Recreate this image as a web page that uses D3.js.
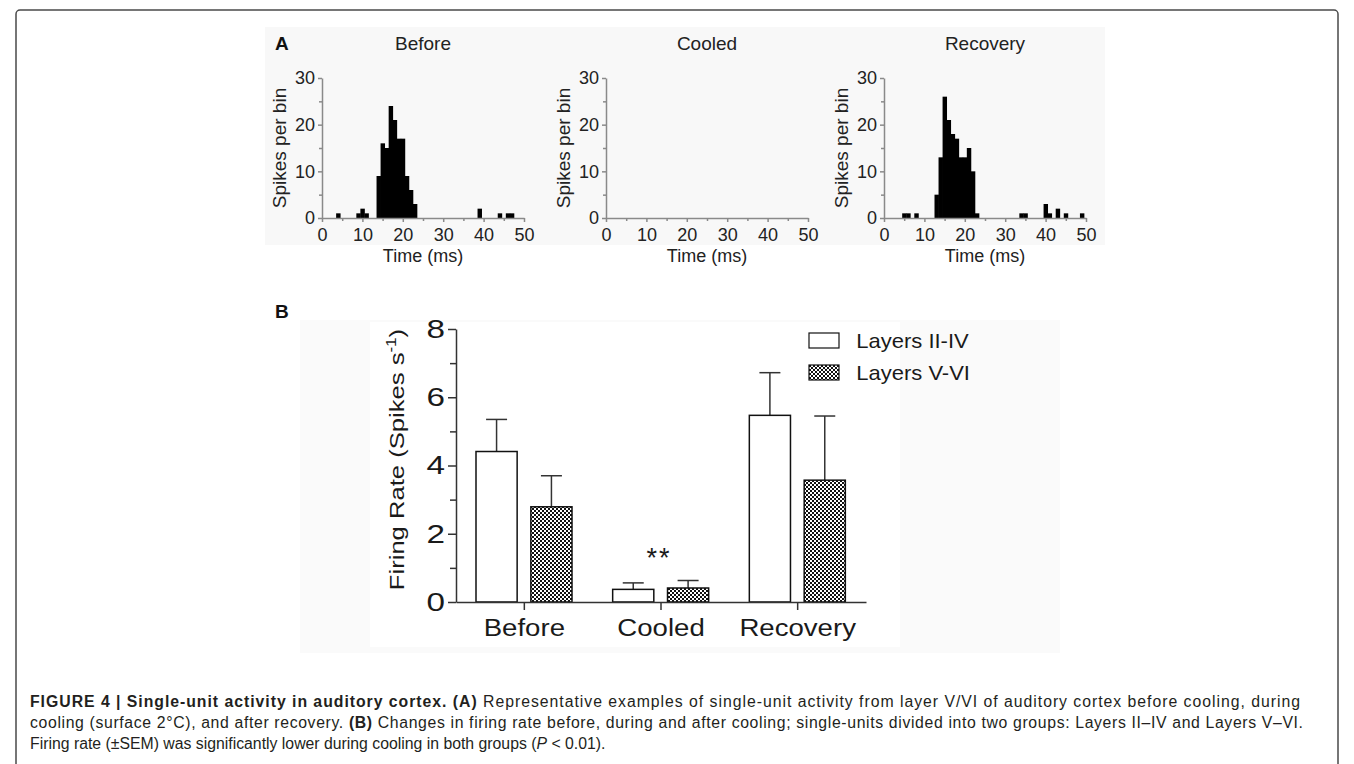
<!DOCTYPE html>
<html lang="en">
<head>
<meta charset="UTF-8">
<title>Figure 4 - Single-unit activity in auditory cortex</title>
<style>
  body { margin: 0; background: #fff; font-family: "Liberation Sans", Arial, sans-serif; }
  svg { display: block; }
  .cap { font-size: 15.8px; fill: #231f20; }
</style>
</head>
<body>

<svg width="1354" height="764"></svg>

<script src="https://d3js.org/d3.v7.min.js"></script>
<script>
  // Panel A: spikes per 1 ms bin (bin centre in ms, count)
  const beforeBins     = [4, 9, 10, 11, 14, 15, 16, 17, 18, 19, 20, 21, 22, 23, 39, 44, 46, 47];
  const beforeCounts   = [1, 1, 2, 1, 9, 16, 15, 24, 21, 17, 17, 9, 6, 3, 2, 1, 1, 1];
  const cooledBins     = [];
  const cooledCounts   = [];
  const recoveryBins   = [5, 6, 8, 13, 14, 15, 16, 17, 18, 19, 20, 21, 22, 23, 34, 35, 40, 41, 43, 45, 49];
  const recoveryCounts = [1, 1, 1, 5, 13, 26, 21, 18, 17, 13, 13, 15, 10, 1, 1, 1, 3, 1, 2, 1, 1];
  const histTitles = ["Before", "Cooled", "Recovery"];
  const timeTicks  = [0, 10, 20, 30, 40, 50];
  const countTicks = [0, 10, 20, 30];

  // Panel B: mean firing rate and SEM
  const conditions  = ["Before", "Cooled", "Recovery"];
  const layerGroups = ["Layers II-IV", "Layers V-VI"];
  const rateUpper = [4.41, 0.37, 5.47];
  const semUpper  = [0.94, 0.19, 1.25];
  const rateDeep  = [2.79, 0.41, 3.57];
  const semDeep   = [0.91, 0.22, 1.88];
  const rateTicks = [0, 2, 4, 6, 8];

  const svg = d3.select("svg");

  // frame + panel backgrounds
  svg.append("rect").attr("x", 16).attr("y", 10).attr("width", 1322).attr("height", 800)
    .attr("rx", 4).attr("fill", "none").attr("stroke", "#4a4a4a").attr("stroke-width", 1.5);
  svg.append("rect").attr("x", 265).attr("y", 27).attr("width", 840).attr("height", 218).attr("fill", "#f8f8f8");
  svg.append("rect").attr("x", 300).attr("y", 320).attr("width", 760).attr("height", 333).attr("fill", "#fafafa");
  svg.append("rect").attr("x", 370).attr("y", 322).attr("width", 530).attr("height", 325).attr("fill", "#fff");

  // checkered fill for the deep layers
  const pat = svg.append("defs").append("pattern")
    .attr("id", "checker").attr("width", 4).attr("height", 4)
    .attr("patternUnits", "userSpaceOnUse");
  pat.append("rect").attr("width", 4).attr("height", 4).attr("fill", "#fff");
  pat.append("rect").attr("width", 2).attr("height", 2).attr("fill", "#111");
  pat.append("rect").attr("x", 2).attr("y", 2).attr("width", 2).attr("height", 2).attr("fill", "#111");

  // ---------- Panel A ----------
  svg.append("text").attr("x", 275).attr("y", 50)
    .attr("font-size", 19).attr("font-weight", "bold").attr("fill", "#111").text("A");

  const hists = [
    { title: histTitles[0], bins: beforeBins, counts: beforeCounts, left: 322 },
    { title: histTitles[1], bins: cooledBins, counts: cooledCounts, left: 606 },
    { title: histTitles[2], bins: recoveryBins, counts: recoveryCounts, left: 884 }
  ];

  hists.forEach(h => {
    const x = d3.scaleLinear().domain([0, 50]).range([h.left, h.left + 202]);
    const y = d3.scaleLinear().domain([0, 30]).range([218, 78]);
    const g = svg.append("g");

    g.append("text").attr("x", x(25)).attr("y", 50).attr("text-anchor", "middle")
      .attr("font-size", 19).attr("fill", "#222").text(h.title);

    // bars
    g.selectAll("rect.bin")
      .data(h.bins.map((b, i) => ({ b, c: h.counts[i] })))
      .enter().append("rect")
      .attr("class", "bin")
      .attr("x", d => x(d.b - 0.5))
      .attr("width", d => x(d.b + 0.5) - x(d.b - 0.5) + 0.4)
      .attr("y", d => y(d.c))
      .attr("height", d => y(0) - y(d.c))
      .attr("fill", "#000");

    // axes
    g.append("g").attr("transform", "translate(0,218)")
      .call(d3.axisBottom(x).tickValues(timeTicks).tickSize(4).tickSizeOuter(0).tickPadding(6));
    const xMinor = g.append("g").attr("transform", "translate(0,218)")
      .call(d3.axisBottom(x).tickValues([5, 15, 25, 35, 45]).tickSize(3).tickFormat(""));
    xMinor.select(".domain").remove();
    g.append("g").attr("transform", `translate(${h.left},0)`)
      .call(d3.axisLeft(y).tickValues(countTicks).tickSize(4).tickSizeOuter(0).tickPadding(3));
    const yMinor = g.append("g").attr("transform", `translate(${h.left},0)`)
      .call(d3.axisLeft(y).tickValues([5, 15, 25]).tickSize(3).tickFormat(""));
    yMinor.select(".domain").remove();

    g.selectAll(".domain, .tick line").attr("stroke", "#8a8a8a").attr("stroke-width", 1.5);
    g.selectAll(".tick text").attr("font-size", 18).attr("fill", "#222")
      .attr("font-family", "Liberation Sans, Arial, sans-serif");

    g.append("text").attr("x", x(25)).attr("y", 262).attr("text-anchor", "middle")
      .attr("font-size", 18).attr("fill", "#222").text("Time (ms)");
    g.append("text")
      .attr("transform", `translate(${h.left - 36},${y(15)}) rotate(-90)`)
      .attr("text-anchor", "middle").attr("font-size", 19).attr("fill", "#222")
      .text("Spikes per bin");
  });

  // ---------- Panel B ----------
  svg.append("text").attr("x", 275).attr("y", 318)
    .attr("font-size", 19).attr("font-weight", "bold").attr("fill", "#111").text("B");

  const xB = d3.scaleBand().domain(conditions).range([456, 866]);
  const xSub = d3.scaleBand().domain(layerGroups).range([20, 116]).paddingInner(0.25);
  const yB = d3.scaleLinear().domain([0, 8]).range([602, 329]);

  const series = [
    { name: layerGroups[0], rates: rateUpper, sems: semUpper, fill: "#fff" },
    { name: layerGroups[1], rates: rateDeep, sems: semDeep, fill: "url(#checker)" }
  ];

  const gB = svg.append("g");

  series.forEach(s => {
    const pts = conditions.map((c, i) => ({
      x: xB(c) + xSub(s.name), v: s.rates[i], e: s.rates[i] + s.sems[i]
    }));
    const w = xSub.bandwidth();

    // error bars (upper half only)
    gB.selectAll(null).data(pts).enter().append("line")
      .attr("x1", d => d.x + w / 2).attr("x2", d => d.x + w / 2)
      .attr("y1", d => yB(d.v)).attr("y2", d => yB(d.e))
      .attr("stroke", "#333").attr("stroke-width", 1.5);
    gB.selectAll(null).data(pts).enter().append("line")
      .attr("x1", d => d.x + w / 2 - 10.5).attr("x2", d => d.x + w / 2 + 10.5)
      .attr("y1", d => yB(d.e)).attr("y2", d => yB(d.e))
      .attr("stroke", "#333").attr("stroke-width", 1.5);

    gB.selectAll(null).data(pts).enter().append("rect")
      .attr("x", d => d.x).attr("width", w)
      .attr("y", d => yB(d.v)).attr("height", d => yB(0) - yB(d.v))
      .attr("fill", s.fill).attr("stroke", "#111").attr("stroke-width", 1.5);
  });

  // axes
  const xAxB = gB.append("g").attr("transform", `translate(0,${yB(0)})`)
    .call(d3.axisBottom(xB).tickSize(8).tickSizeOuter(0));
  xAxB.selectAll(".tick text").attr("y", 17)
    .attr("font-size", 24).attr("fill", "#1a1a1a")
    .attr("transform", "scale(1.15,1)");

  const yAxB = gB.append("g").attr("transform", "translate(456,0)")
    .call(d3.axisLeft(yB).tickValues(rateTicks).tickSize(8).tickSizeOuter(0));
  yAxB.selectAll(".tick text").attr("x", -8.5)
    .attr("font-size", 26).attr("fill", "#1a1a1a")
    .attr("transform", "scale(1.28,1)");
  const yMinorB = gB.append("g").attr("transform", "translate(456,0)")
    .call(d3.axisLeft(yB).tickValues([1, 3, 5, 7]).tickSize(6).tickFormat(""));
  yMinorB.select(".domain").remove();

  gB.selectAll(".domain, .tick line").attr("stroke", "#333").attr("stroke-width", 1.5);
  gB.selectAll(".tick text").attr("font-family", "Liberation Sans, Arial, sans-serif");

  // axis title
  const yTitle = gB.append("text")
    .attr("transform", `translate(404,${(yB(0) + yB(8)) / 2 - 6}) rotate(-90) scale(1.22,1)`)
    .attr("text-anchor", "middle").attr("font-size", 21).attr("fill", "#1a1a1a");
  yTitle.append("tspan").text("Firing Rate (Spikes s");
  yTitle.append("tspan").attr("dy", -8).attr("font-size", 14).text("-1");
  yTitle.append("tspan").attr("dy", 8).text(")");

  // significance marker
  gB.append("text").attr("x", xB("Cooled") + xB.bandwidth() / 2 - 2).attr("y", 567)
    .attr("text-anchor", "middle").attr("font-size", 27).attr("fill", "#1a1a1a")
    .attr("letter-spacing", 2).text("**");

  // legend
  const leg = gB.selectAll(".leg").data(series).enter().append("g")
    .attr("transform", (d, i) => `translate(809,${333 + i * 32})`);
  leg.append("rect").attr("width", 30).attr("height", 15)
    .attr("fill", d => d.fill).attr("stroke", "#111").attr("stroke-width", 1.2);
  leg.append("text").attr("x", 43).attr("y", 15)
    .attr("font-size", 20).attr("fill", "#1a1a1a")
    .attr("transform", "scale(1.1,1)")
    .text(d => d.name);

  // ---------- caption ----------
  const cap = svg.append("g").attr("class", "cap");
  const l1 = cap.append("text").attr("x", 30).attr("y", 707)
    .attr("textLength", 1270).attr("lengthAdjust", "spacing");
  l1.append("tspan").attr("font-weight", "bold").text("FIGURE 4 | Single-unit activity in auditory cortex. (A)");
  l1.append("tspan").text(" Representative examples of single-unit activity from layer V/VI of auditory cortex before cooling, during");

  const l2 = cap.append("text").attr("x", 30).attr("y", 728)
    .attr("textLength", 1273).attr("lengthAdjust", "spacing");
  l2.append("tspan").text("cooling (surface 2°C), and after recovery. ");
  l2.append("tspan").attr("font-weight", "bold").text("(B)");
  l2.append("tspan").text(" Changes in firing rate before, during and after cooling; single-units divided into two groups: Layers II–IV and Layers V–VI.");

  const l3 = cap.append("text").attr("x", 30).attr("y", 749);
  l3.append("tspan").text("Firing rate (±SEM) was significantly lower during cooling in both groups (");
  l3.append("tspan").attr("font-style", "italic").text("P");
  l3.append("tspan").text(" < 0.01).");
</script>

</body>
</html>
